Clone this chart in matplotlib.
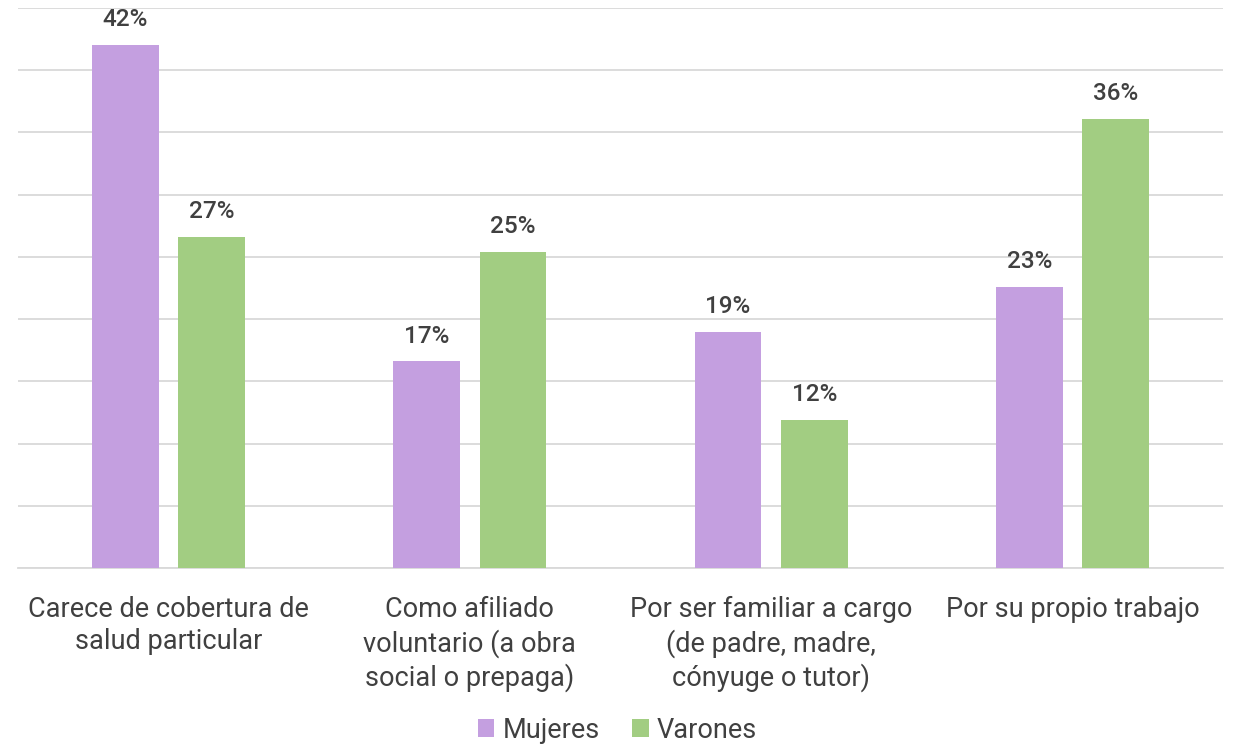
import matplotlib
matplotlib.use("Agg")
import matplotlib.pyplot as plt
import numpy as np

categories = ["Carece de cobertura de\nsalud particular",
              "Como afiliado\nvoluntario (a obra\nsocial o prepaga)",
              "Por ser familiar a cargo\n(de padre, madre,\ncónyuge o tutor)",
              "Por su propio trabajo"]
mujeres = [42.0, 16.6, 19.0, 22.6]
varones = [26.6, 25.4, 11.9, 36.1]
series_names = ["Mujeres", "Varones"]
colors = ["#C49FE0", "#A2CD82"]

plt.rcParams['font.family'] = ['Roboto', 'DejaVu Sans']
text_color = "#404040"

fig = plt.figure(figsize=(12.35, 7.45), dpi=100)
ax = fig.add_axes([18/1235, 1-568/745, (1223-18)/1235, (568-8)/745])

x = np.arange(len(categories))
w = 0.222
off = 0.143
b1 = ax.bar(x - off, mujeres, w, color=colors[0], label=series_names[0], zorder=3)
b2 = ax.bar(x + off, varones, w, color=colors[1], label=series_names[1], zorder=3)

for bars in (b1, b2):
    for r in bars:
        h = r.get_height()
        ax.annotate(f"{h:.0f}%", (r.get_x() + r.get_width()/2, h),
                    xytext=(0, 10), textcoords="offset points",
                    ha="center", va="bottom", fontsize=17.5, color=text_color,
                    fontweight="medium")

ax.set_xlim(-0.5, len(categories) - 0.5)
ax.set_ylim(0, 45)
ax.set_yticks(np.arange(0, 46, 5))
ax.yaxis.grid(True, color="#D9D9D9", linewidth=1.3, zorder=0)
ax.tick_params(axis="y", left=False, labelleft=False)
ax.tick_params(axis="x", length=0, pad=20)
ax.set_xticks(x)
ax.set_xticklabels(categories, fontsize=19.5, color=text_color, linespacing=1.27)
for s in ["top", "right", "left"]:
    ax.spines[s].set_visible(False)
ax.spines["bottom"].set_color("#D9D9D9")
ax.spines["bottom"].set_linewidth(1.3)

fig.legend(handles=[b1, b2], labels=series_names, loc="center",
           bbox_to_anchor=(0.5, 1-730/745), ncol=2, frameon=False,
           fontsize=19.5, labelcolor=text_color, handlelength=0.6, handleheight=0.6,
           handletextpad=0.3, columnspacing=1.2)

fig.savefig("out.png", dpi=100)
